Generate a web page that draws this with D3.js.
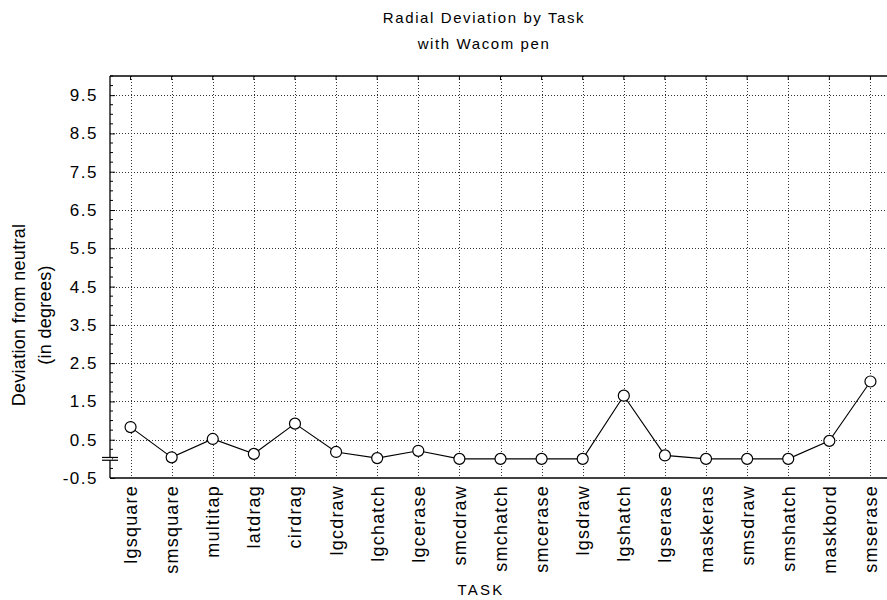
<!DOCTYPE html>
<html>
<head>
<meta charset="utf-8">
<script src="https://cdn.jsdelivr.net/npm/d3@7"></script>
<style>
  html, body { margin: 0; padding: 0; background: #fff; }
  svg text { font-family: "Liberation Sans", Arial, sans-serif; fill: #000; }
</style>
</head>
<body>
<svg id="chart" width="887" height="600"></svg>
<script>
// Task categories along the x axis
const tasks = ["lgsquare", "smsquare", "multitap", "latdrag", "cirdrag", "lgcdraw",
  "lgchatch", "lgcerase", "smcdraw", "smchatch", "smcerase", "lgsdraw", "lgshatch",
  "lgserase", "maskeras", "smsdraw", "smshatch", "maskbord", "smserase"];

// Mean radial deviation (degrees) per task
const deviation = [0.83, 0.04, 0.52, 0.13, 0.92, 0.18, 0.02, 0.21, 0.0, 0.0, 0.0, 0.0,
  1.65, 0.09, 0.0, 0.0, 0.0, 0.47, 2.02];

// Labelled y ticks
const yTicks = [-0.5, 0.5, 1.5, 2.5, 3.5, 4.5, 5.5, 6.5, 7.5, 8.5, 9.5];
const yTickLabels = ["-0.5", "0.5", "1.5", "2.5", "3.5", "4.5", "5.5", "6.5", "7.5", "8.5", "9.5"];

const titleLines = ["Radial Deviation by Task", "with Wacom pen"];
const xTitle = "TASK";
const yTitleLines = ["Deviation from neutral", "(in degrees)"];

const svg = d3.select("#chart");
const plot = { left: 110, right: 891, top: 76, bottom: 478 };

const x = d3.scalePoint().domain(tasks).range([plot.left, plot.right]).padding(0.5);
const y = d3.scaleLinear().domain([-0.5, 10]).range([plot.bottom, plot.top]);

// Dotted grid
const grid = svg.append("g").attr("stroke", "#333").attr("stroke-width", 1)
  .attr("stroke-dasharray", "1,2");
grid.selectAll("line.v").data(tasks).join("line")
  .attr("x1", d => Math.round(x(d)) + 0.5).attr("x2", d => Math.round(x(d)) + 0.5)
  .attr("y1", plot.top).attr("y2", plot.bottom);
grid.selectAll("line.h").data(yTicks.filter(v => v > -0.5)).join("line")
  .attr("x1", plot.left).attr("x2", plot.right)
  .attr("y1", d => Math.round(y(d)) + 0.5).attr("y2", d => Math.round(y(d)) + 0.5);

// Frame: left, top, bottom
const frame = svg.append("g").attr("stroke", "#000").attr("stroke-width", 1.3).attr("fill", "none");
frame.append("line").attr("x1", plot.left).attr("x2", plot.left).attr("y1", plot.top).attr("y2", plot.bottom);
frame.append("line").attr("x1", plot.left).attr("x2", plot.right).attr("y1", plot.top).attr("y2", plot.top);
frame.append("line").attr("x1", plot.left).attr("x2", plot.right).attr("y1", plot.bottom).attr("y2", plot.bottom);

// Y axis: labels plus inward ticks (major and quarter-step minor)
const yAxis = d3.axisLeft(y).tickValues(yTicks)
  .tickFormat((d, i) => yTickLabels[i]).tickSize(-5).tickPadding(12);
const yg = svg.append("g").attr("transform", `translate(${plot.left},0)`).call(yAxis);
yg.select(".domain").remove();
yg.selectAll(".tick line").attr("stroke", "#000");
yg.selectAll(".tick text")
  .style("font-size", "17px").style("letter-spacing", "1.5px")
  .style("font-family", "'Liberation Sans', Arial, sans-serif");

const minor = d3.range(-0.5, 10.001, 0.25).filter(v => Math.abs((v + 0.5) % 1) > 0.01);
svg.append("g").selectAll("line").data(minor).join("line")
  .attr("x1", plot.left).attr("x2", plot.left + 3)
  .attr("y1", d => y(d)).attr("y2", d => y(d))
  .attr("stroke", "#000").attr("stroke-width", 1);

// Top ticks at each task
svg.append("g").selectAll("line").data(tasks).join("line")
  .attr("x1", d => x(d)).attr("x2", d => x(d))
  .attr("y1", plot.top).attr("y2", plot.top + 4)
  .attr("stroke", "#000");

// X axis labels, rotated
const xAxis = d3.axisBottom(x).tickSize(0).tickPadding(8);
const xg = svg.append("g").attr("transform", `translate(0,${plot.bottom})`).call(xAxis);
xg.select(".domain").remove();
xg.selectAll(".tick text")
  .style("font-size", "18px").style("letter-spacing", "1.2px")
  .style("font-family", "'Liberation Sans', Arial, sans-serif")
  .attr("text-anchor", "end").attr("dy", 0)
  .attr("transform", "rotate(-90)")
  .attr("x", -7).attr("y", 0).attr("dominant-baseline", "central");

// Axis break marker at the bottom of the y axis
const breakY = y(0);
svg.append("rect").attr("x", plot.left - 2).attr("y", breakY - 1.3).attr("width", 4).attr("height", 2.6).attr("fill", "#fff");
svg.append("g").attr("stroke", "#000").attr("stroke-width", 1.2)
  .selectAll("line").data([-1.4, 1.4]).join("line")
  .attr("x1", plot.left - 8).attr("x2", plot.left + 8)
  .attr("y1", d => breakY + d).attr("y2", d => breakY + d);

// Data line and markers
const pts = tasks.map((t, i) => [x(t), y(deviation[i])]);
svg.append("path").attr("d", d3.line()(pts))
  .attr("fill", "none").attr("stroke", "#000").attr("stroke-width", 1.1);
svg.append("g").selectAll("circle").data(pts).join("circle")
  .attr("cx", d => d[0]).attr("cy", d => d[1]).attr("r", 5.5)
  .attr("fill", "#fff").attr("stroke", "#000").attr("stroke-width", 1.2);

// Titles
svg.append("g").selectAll("text").data(titleLines).join("text")
  .attr("x", 484).attr("y", (d, i) => 23 + i * 26)
  .attr("text-anchor", "middle")
  .style("font-size", "15px").style("letter-spacing", "1.6px")
  .text(d => d);

svg.append("text").attr("x", 481).attr("y", 595)
  .attr("text-anchor", "middle")
  .style("font-size", "15px").style("letter-spacing", "2.2px")
  .text(xTitle);

svg.append("g").selectAll("text").data(yTitleLines).join("text")
  .attr("transform", (d, i) => `translate(${19 + i * 26},315) rotate(-90)`)
  .attr("text-anchor", "middle").attr("dominant-baseline", "central")
  .style("font-size", "18px").style("letter-spacing", "0.3px")
  .text(d => d);
</script>
</body>
</html>
